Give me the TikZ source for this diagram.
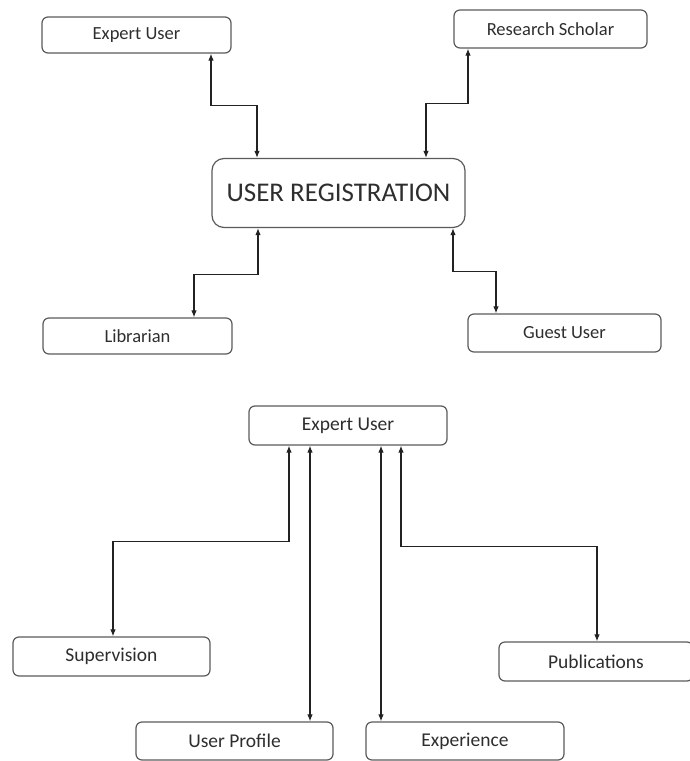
\documentclass[tikz,border=0pt]{standalone}
\usepackage{fontspec}
\setmainfont{Carlito}
\usepackage{tikz}
\usetikzlibrary{arrows.meta, positioning}
\definecolor{Frame}{HTML}{5A5A5A}
\definecolor{Ink}{HTML}{222222}
\definecolor{Label}{HTML}{2E2E2E}

\begin{document}
\begin{tikzpicture}[x=1pt, y=-1pt, >={Latex[length=7pt, width=5.5pt]},
  box/.style={draw=Frame, line width=1.2pt, rounded corners=6pt, inner sep=0pt,
    text=Label, font=\fontsize{18.5}{22}\selectfont},
  boxb/.style={box, font=\fontsize{19.5}{23}\selectfont},
  link/.style={<->, draw=Ink, line width=1.1pt}]
  \useasboundingbox (0,0) rectangle (689,761);
  % registration part
  \node[box, minimum width=189pt, minimum height=36pt] (eu) at (136.5,35) {Expert User};
  \node[box, minimum width=193pt, minimum height=38pt] (rs) at (550.5,29) {Research Scholar};
  \node[box, minimum width=253pt, minimum height=69pt, rounded corners=12pt,
    font=\fontsize{27}{32}\selectfont] (reg) at (338.5,193) {USER REGISTRATION};
  \node[box, minimum width=189pt, minimum height=36pt] (lib) at (137.5,336) {Librarian};
  \node[box, minimum width=193pt, minimum height=38pt] (gu) at (564.5,333) {Guest User};
  \draw[link] ([xshift=74.5pt]eu.south) -- ++(0,52) -| ([xshift=-81.5pt]reg.north);
  \draw[link] ([xshift=-82.5pt]rs.south) -- ++(0,55) -| ([xshift=87.5pt]reg.north);
  \draw[link] ([xshift=-80.5pt]reg.south) -- ++(0,46) -| ([xshift=56.5pt]lib.north);
  \draw[link] ([xshift=114.5pt]reg.south) -- ++(0,43) -| ([xshift=-68.5pt]gu.north);
  % expert user part
  \node[boxb, minimum width=198pt, minimum height=39pt] (eu2) at (348,425.5) {Expert User};
  \node[boxb, minimum width=197pt, minimum height=39pt] (sup) at (111.5,656.5) {Supervision};
  \node[boxb, minimum width=194pt, minimum height=39pt] (pub) at (596,661.5) {Publications};
  \node[boxb, minimum width=197pt, minimum height=38pt] (up) at (234.5,741) {User Profile};
  \node[boxb, minimum width=198pt, minimum height=38pt] (ex) at (465,741) {Experience};
  \draw[link] ([xshift=-59pt]eu2.south) -- ++(0,96) -| ([xshift=1.5pt]sup.north);
  \draw[link] ([xshift=-38pt]eu2.south) -- ([xshift=75.5pt]up.north);
  \draw[link] ([xshift=33pt]eu2.south) -- ([xshift=-84pt]ex.north);
  \draw[link] ([xshift=53pt]eu2.south) -- ++(0,101) -| ([xshift=1pt]pub.north);
\end{tikzpicture}
\end{document}
